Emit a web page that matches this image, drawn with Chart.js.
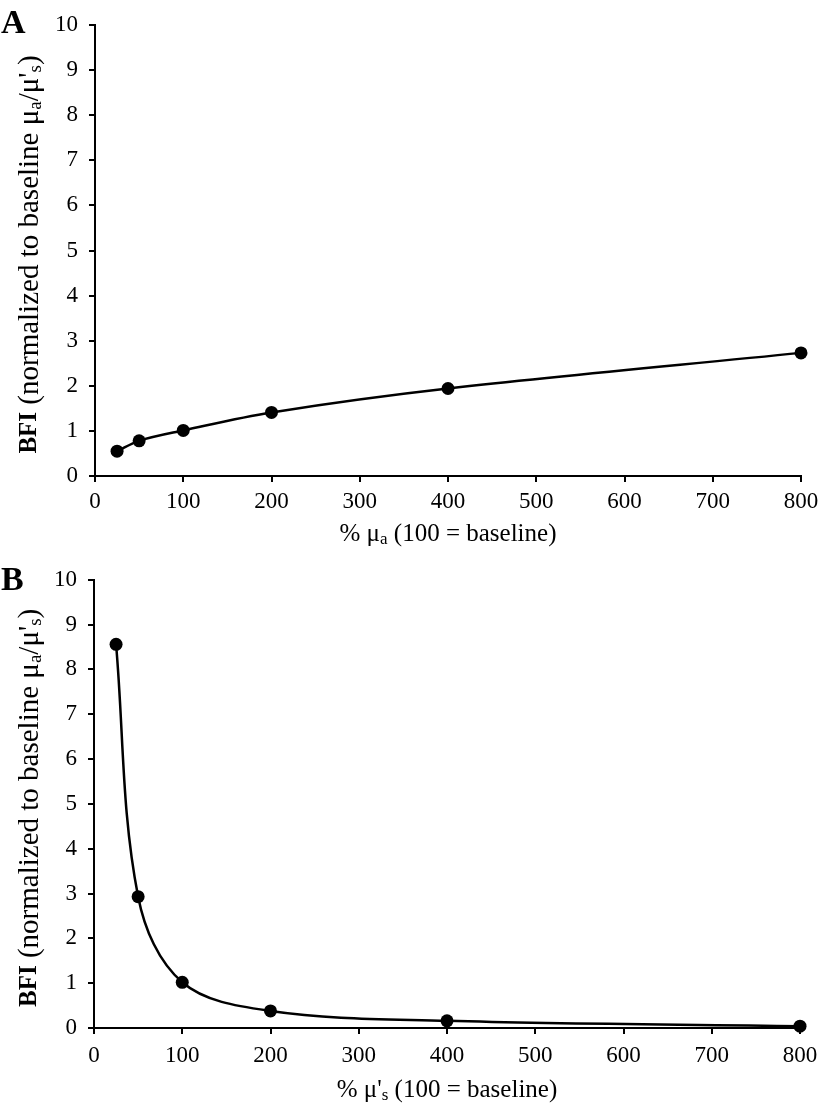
<!DOCTYPE html>
<html>
<head>
<meta charset="utf-8">
<script src="https://cdn.jsdelivr.net/npm/chart.js@4.4.1/dist/chart.umd.min.js"></script>
<style>
  body { margin: 0; background: #fff; overflow: hidden; }
  .panel { position: absolute; left: 0; width: 826px; }
  #panelA { top: 0; height: 555px; }
  #panelB { top: 555px; height: 556px; }
</style>
</head>
<body>
<div class="panel" id="panelA"><canvas id="chartA"></canvas></div>
<div class="panel" id="panelB"><canvas id="chartB"></canvas></div>
<script>
// percent of baseline (x) and normalized BFI (y)
const percentBaseline = [25, 50, 100, 200, 400, 800];
const bfiAbsorption = [0.55, 0.78, 1.01, 1.41, 1.94, 2.73];
const bfiScattering = [8.56, 2.93, 1.02, 0.38, 0.16, 0.04];

const SERIF = '"Liberation Serif", "Times New Roman", serif';

const yTitleParts = [
    { text: 'BFI', bold: true, size: 25 },
    { text: ' (normalized to baseline μ' },
    { text: 'a', sub: true },
    { text: '/μ\'' },
    { text: 's', sub: true },
    { text: ')' }
];
const xTitleA = [
    { text: '% μ' },
    { text: 'a', sub: true },
    { text: ' (100 = baseline)' }
];
const xTitleB = [
    { text: '% μ\'' },
    { text: 's', sub: true },
    { text: ' (100 = baseline)' }
];

function partFont(p, size) {
    let s = p.size || size;
    if (p.sub) s = Math.round(s * 0.66);
    return (p.bold ? 'bold ' : '') + s + 'px ' + SERIF;
}

function drawRich(ctx, parts, size) {
    let total = 0;
    parts.forEach(p => {
        ctx.font = partFont(p, size);
        total += ctx.measureText(p.text).width;
    });
    let x = -total / 2;
    parts.forEach(p => {
        ctx.font = partFont(p, size);
        ctx.fillText(p.text, x, p.sub ? size * 0.22 : 0);
        x += ctx.measureText(p.text).width;
    });
}

const richTitles = {
    id: 'richTitles',
    afterDraw(chart, args, opts) {
        const { ctx, chartArea } = chart;
        ctx.save();
        ctx.fillStyle = '#000';
        ctx.textBaseline = 'middle';

        // x axis title
        ctx.save();
        ctx.translate((chartArea.left + chartArea.right) / 2, chartArea.bottom + opts.xOffset);
        drawRich(ctx, opts.xTitle, 25);
        ctx.restore();

        // y axis title, rotated
        ctx.save();
        ctx.translate(opts.yX, (chartArea.top + chartArea.bottom) / 2 + 4);
        ctx.rotate(-Math.PI / 2);
        drawRich(ctx, yTitleParts, 29);
        ctx.restore();

        // panel letter
        ctx.font = 'bold 34px ' + SERIF;
        ctx.textBaseline = 'alphabetic';
        ctx.textAlign = 'left';
        ctx.fillText(opts.letter, 1, opts.letterY);
        ctx.restore();
    }
};

function makeChart(canvasId, values, cfg) {
    const ctx = document.getElementById(canvasId).getContext('2d');
    return new Chart(ctx, {
        type: 'line',
        data: {
            datasets: [{
                data: percentBaseline.map((x, i) => ({ x: x, y: values[i] })),
                borderColor: '#000',
                backgroundColor: '#000',
                borderWidth: 2.5,
                pointRadius: 6.5,
                pointHoverRadius: 6.5,
                pointBorderWidth: 0,
                tension: 0.35,
                clip: false
            }]
        },
        options: {
            responsive: true,
            maintainAspectRatio: false,
            animation: false,
            layout: { padding: { left: 0, right: cfg.right, top: cfg.top, bottom: 0 } },
            plugins: {
                legend: { display: false },
                tooltip: { enabled: false },
                richTitles: cfg.titles
            },
            scales: {
                x: {
                    type: 'linear',
                    min: 0,
                    max: 800,
                    ticks: { stepSize: 100, color: '#000', padding: cfg.xPad, font: { family: SERIF, size: 23 } },
                    grid: { drawOnChartArea: false, drawTicks: true, tickLength: 6, color: '#000', lineWidth: 2 },
                    border: { display: true, color: '#000', width: 2 },
                    afterFit: scale => { scale.height = cfg.xHeight; }
                },
                y: {
                    min: 0,
                    max: 10,
                    ticks: { stepSize: 1, color: '#000', padding: 11, font: { family: SERIF, size: 23 } },
                    grid: { drawOnChartArea: false, drawTicks: true, tickLength: 6, color: '#000', lineWidth: 2 },
                    border: { display: true, color: '#000', width: 2 },
                    afterFit: scale => { scale.width = cfg.yWidth; }
                }
            }
        },
        plugins: [richTitles]
    });
}

document.addEventListener('DOMContentLoaded', () => {
    makeChart('chartA', bfiAbsorption, {
        right: 25, top: 25, xHeight: 79, yWidth: 95, xPad: 6,
        titles: { xTitle: xTitleA, xOffset: 58, yX: 30, letter: 'A', letterY: 33 }
    });
    makeChart('chartB', bfiScattering, {
        right: 26, top: 23, xHeight: 83, yWidth: 94, xPad: 8,
        titles: { xTitle: xTitleB, xOffset: 62, yX: 30, letter: 'B', letterY: 35 }
    });
});
</script>
</body>
</html>
